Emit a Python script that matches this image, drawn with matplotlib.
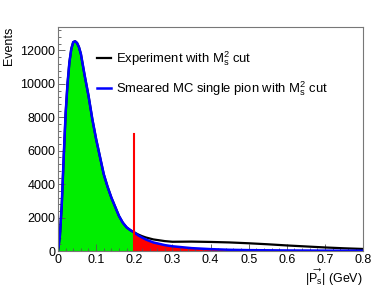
import numpy as np
import matplotlib
matplotlib.use('Agg')
import matplotlib.pyplot as plt
from matplotlib.ticker import MultipleLocator

plt.rcParams['font.family'] = ['Liberation Sans', 'DejaVu Sans']
plt.rcParams['mathtext.fontset'] = 'custom'
plt.rcParams['mathtext.rm'] = 'Liberation Sans'
plt.rcParams['mathtext.it'] = 'Liberation Sans'
plt.rcParams['mathtext.bf'] = 'Liberation Sans:bold'

# |P_s| in GeV
p = [0, .005, .01, .015, .02, .025, .03, .035, .04, .045, .05, .055, .06, .07, .08,
     .09, .10, .11, .12, .13, .14, .15, .16, .17, .18, .19, .20, .21, .22, .23, .25,
     .28, .30, .35, .40, .45, .50, .55, .60, .65, .70, .75, .80]
mc = [0, 900, 2800, 5600, 8200, 10000, 11300, 12100, 12500, 12550, 12450, 12200, 11800,
      10500, 9300, 7900, 6700, 5650, 4600, 3850, 3200, 2650, 2100, 1700, 1420, 1250,
      1120, 950, 820, 700, 520, 360, 290, 180, 120, 80, 60, 50, 40, 35, 30, 25, 25]
exp_tail = [1000, 900, 820, 700, 600, 560, 570, 550, 520, 470, 410, 340, 280, 220, 170, 130]
exp = mc[:27] + exp_tail

cut_value = 0.2
cut_line_height = 7000

p = np.array(p)
mc = np.array(mc)
exp = np.array(exp)

fig = plt.figure(figsize=(3.74, 2.88), dpi=100)
ax = fig.add_axes([0.155, 0.128, 0.816, 0.778])

ax.fill_between(p, 0, mc, where=p <= cut_value, color='#00ee00', lw=0)
ax.fill_between(p, 0, mc, where=p >= cut_value, color='#ff0000', lw=0)
ax.plot(p, exp, color='black', lw=1.6, label='Experiment with $\\mathrm{M_s^2}$ cut')
ax.plot(p, mc, color='blue', lw=1.8, label='Smeared MC single pion with $\\mathrm{M_s^2}$ cut')
ax.plot([cut_value, cut_value], [0, cut_line_height], color='red', lw=1.5)

ax.set_xlim(0, 0.8)
ax.set_ylim(0, 13400)
ax.xaxis.set_major_locator(MultipleLocator(0.1))
ax.xaxis.set_minor_locator(MultipleLocator(0.02))
ax.yaxis.set_major_locator(MultipleLocator(2000))
ax.yaxis.set_minor_locator(MultipleLocator(400))
ax.set_xticks(np.arange(0, 0.81, 0.1))
ax.set_xticklabels(['0', '0.1', '0.2', '0.3', '0.4', '0.5', '0.6', '0.7', '0.8'])
ax.tick_params(which='both', direction='in', labelsize=9, color='#555555')
ax.tick_params(which='major', length=5, width=0.6, pad=2)
ax.tick_params(which='minor', length=2.5, width=0.6)
for s in ax.spines.values():
    s.set_color('#777777')
    s.set_linewidth(0.8)

ax.set_ylabel('Events', loc='top', fontsize=9, labelpad=4)
ax.set_xlabel('$|\\overrightarrow{\\mathrm{P_s}}|$ (GeV)', loc='right', fontsize=9, labelpad=1)

ax.legend(loc='upper left', bbox_to_anchor=(0.11, 0.925), frameon=False, fontsize=9.4,
          handlelength=1.1, handletextpad=0.35, labelspacing=0.85, borderaxespad=0)

fig.savefig('out.png', dpi=100)
